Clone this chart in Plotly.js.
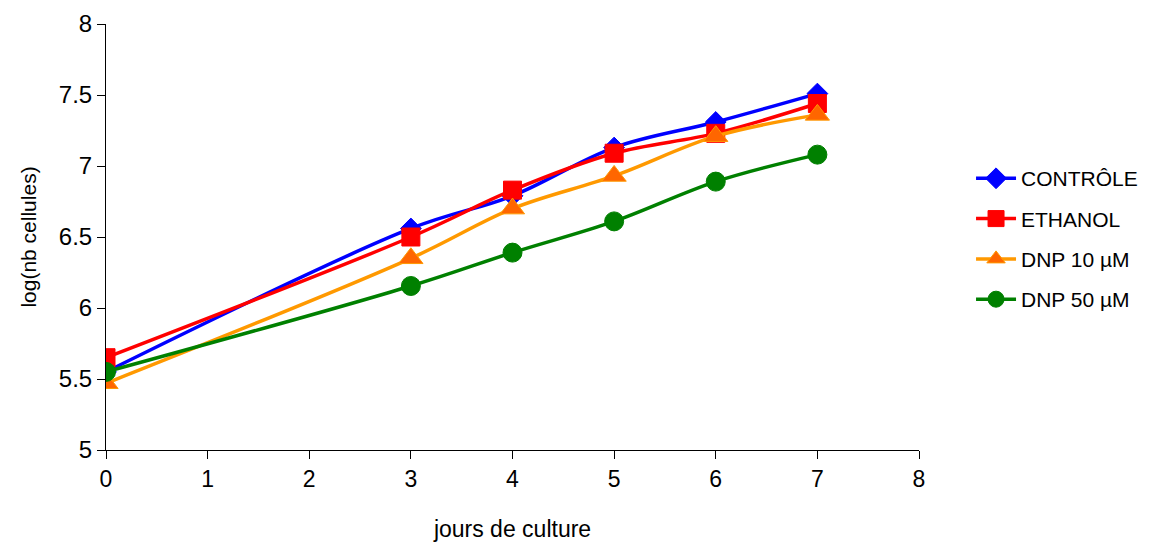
<!DOCTYPE html>
<html>
<head>
<meta charset="utf-8">
<script src="https://cdn.plot.ly/plotly-3.0.1.min.js"></script>
<style>html,body{margin:0;padding:0;background:#fff;}#chart{width:1168px;height:548px;}</style>
</head>
<body>
<div id="chart"></div>
<script>
const days = [0, 3, 4, 5, 6, 7];
const controle = [5.55, 6.56, 6.79, 7.13, 7.31, 7.51];
const ethanol = [5.65, 6.50, 6.83, 7.09, 7.23, 7.44];
const dnp10 = [5.47, 6.35, 6.70, 6.93, 7.21, 7.36];
const dnp50 = [5.55, 6.155, 6.39, 6.61, 6.89, 7.08];
const seriesNames = ['CONTRÔLE', 'ETHANOL', 'DNP 10 µM', 'DNP 50 µM'];

const font = 'Liberation Sans, Arial, sans-serif';
function tr(name, y, color, symbol, mcolor, mline, size) {
  return {
    x: days, y: y, name: name, legendgroup: name, type: 'scatter', mode: 'lines+markers',
    line: {color: color, width: 3.5, shape: 'spline', smoothing: 1},
    marker: {symbol: symbol, size: size, color: mcolor, line: {color: mline, width: 1}}
  };
}
const data = [
  tr(seriesNames[0], controle, '#0000FF', 'diamond', '#0000FF', '#0000FF', 16),
  tr(seriesNames[1], ethanol, '#FF0000', 'square', '#FF0000', '#FF0000', 18),
  tr(seriesNames[2], dnp10, '#FF9900', 'triangle-up', '#FF6600', '#FF9900', 21),
  tr(seriesNames[3], dnp50, '#008000', 'circle', '#008000', '#008000', 19)
];
const layout = {
  width: 1168, height: 548,
  margin: {l: 106, r: 249, t: 24, b: 98},
  paper_bgcolor: '#fff', plot_bgcolor: '#fff',
  font: {family: font, size: 23, color: '#000'},
  showlegend: true,
  legend: {x: 1.064, y: 0.495, xanchor: 'left', yanchor: 'middle',
    font: {family: font, size: 21, color: '#000'}, tracegroupgap: 10, itemwidth: 40},
  xaxis: {
    range: [0, 8], dtick: 1, tick0: 0, showgrid: false, zeroline: false,
    showline: true, linecolor: '#000', linewidth: 1,
    ticks: 'outside', ticklen: 8, tickcolor: '#000',
    tickfont: {family: font, size: 23},
    title: {text: 'jours de culture', font: {family: font, size: 23}, standoff: 30}
  },
  yaxis: {
    range: [5, 8], dtick: 0.5, tick0: 5, showgrid: false, zeroline: false,
    showline: true, linecolor: '#000', linewidth: 1,
    ticks: 'outside', ticklen: 8, tickcolor: '#000',
    tickfont: {family: font, size: 24},
    title: {text: 'log(nb cellules)', font: {family: font, size: 21}, standoff: 16}
  }
};
Plotly.newPlot('chart', data, layout, {displayModeBar: false, staticPlot: true});
</script>
</body>
</html>
